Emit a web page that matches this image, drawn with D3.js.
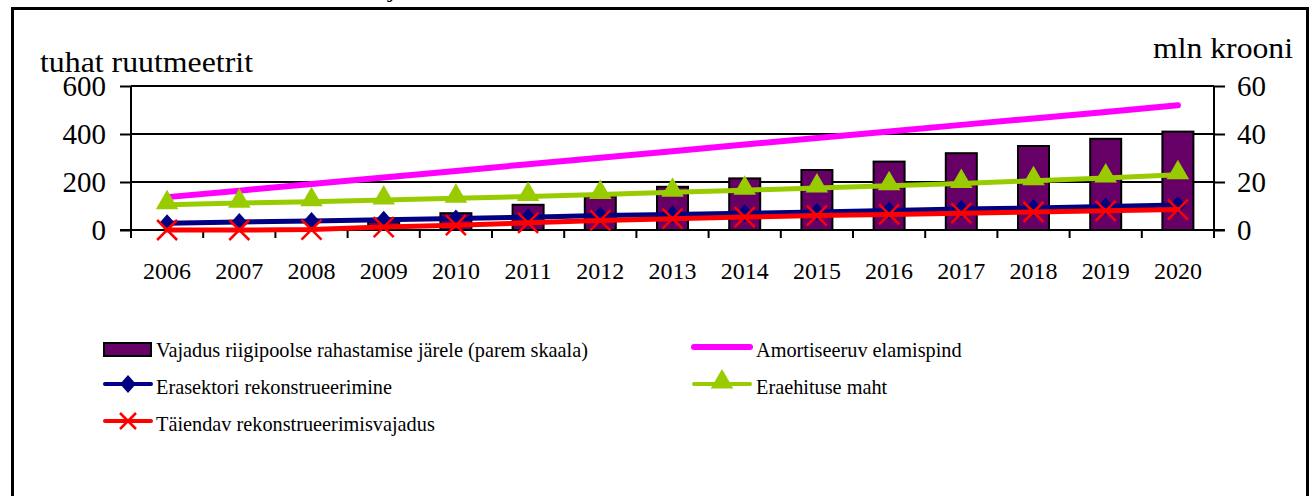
<!DOCTYPE html>
<html>
<head>
<meta charset="utf-8">
<script src="https://cdn.jsdelivr.net/npm/d3@7"></script>
<style>
  html, body { margin: 0; padding: 0; background: #fff; }
  svg { display: block; }
  text { font-family: "Liberation Serif", "Times New Roman", serif; fill: #000; }
</style>
</head>
<body>
<svg id="chart" width="1316" height="496"></svg>
<script>
// ---- data ----
const years = ["2006","2007","2008","2009","2010","2011","2012","2013","2014","2015","2016","2017","2018","2019","2020"];
const fundingNeed = [0, 0, 0, 3.5, 7, 10.5, 14, 18, 21.5, 25, 28.5, 32, 35, 38, 41];          // right scale, mln krooni
const amortizing = [137, 164, 192, 219, 246, 274, 301, 328, 356, 383, 410, 438, 465, 492, 520]; // left scale
const privateRecon = [28, 33, 38, 43, 48, 53, 60, 65, 70, 75, 81, 87, 92, 98, 104];
const privateBuild = [105, 112, 118, 125, 132, 140, 148, 157, 166, 175, 184, 194, 205, 217, 230];
const additionalRecon = [0, 0, 2, 12, 20, 30, 40, 47, 54, 60, 65, 70, 75, 80, 85];
const leftTicks = [0, 200, 400, 600];
const rightTicks = [0, 20, 40, 60];
const leftTitle = "tuhat ruutmeetrit";
const rightTitle = "mln krooni";
const legendNames = [
  "Vajadus riigipoolse rahastamise järele (parem skaala)",
  "Amortiseeruv elamispind",
  "Erasektori rekonstrueerimine",
  "Eraehituse maht",
  "Täiendav rekonstrueerimisvajadus"
];

const svg = d3.select("#chart");

// outer frame
svg.append("rect").attr("x", 12.5).attr("y", 8.5).attr("width", 1295).attr("height", 520)
  .attr("fill", "none").attr("stroke", "#000").attr("stroke-width", 3);
// cut-off text fragment at the top
svg.append("text").attr("x", 388).attr("y", -3).attr("font-size", 26).text("j");

const x = d3.scaleBand().domain(years).range([131, 1214]);
const yL = d3.scaleLinear().domain([0, 600]).range([230, 86]);
const yR = d3.scaleLinear().domain([0, 60]).range([230, 86]);

// gridlines
svg.append("g").selectAll("line").data(leftTicks.filter(d => d > 0)).join("line")
  .attr("x1", 131).attr("x2", 1214).attr("y1", d => yL(d)).attr("y2", d => yL(d))
  .attr("stroke", "#000").attr("stroke-width", 2);

// bars
const bw = 31;
svg.append("g").selectAll("rect").data(years.map((y, i) => ({y, v: fundingNeed[i]})).filter(d => d.v > 0)).join("rect")
  .attr("x", d => x(d.y) + x.bandwidth() / 2 - bw / 2)
  .attr("y", d => yR(d.v))
  .attr("width", bw)
  .attr("height", d => yR(0) - yR(d.v))
  .attr("fill", "#660066").attr("stroke", "#000").attr("stroke-width", 2);

// axes
const axL = svg.append("g").attr("transform", "translate(131,0)")
  .call(d3.axisLeft(yL).tickValues(leftTicks).tickSize(11).tickPadding(14));
const axR = svg.append("g").attr("transform", "translate(1214,0)")
  .call(d3.axisRight(yR).tickValues(rightTicks).tickSize(11).tickPadding(12));
[axL, axR].forEach(a => {
  a.select(".domain").remove();
  a.selectAll("line").attr("stroke", "#000").attr("stroke-width", 2);
  a.selectAll("text").attr("font-size", 29).attr("font-family", "Liberation Serif, serif").attr("fill", "#000");
});
// vertical axis lines
svg.append("line").attr("x1", 131).attr("x2", 131).attr("y1", 86).attr("y2", 238).attr("stroke", "#000").attr("stroke-width", 2);
svg.append("line").attr("x1", 1214).attr("x2", 1214).attr("y1", 86).attr("y2", 238).attr("stroke", "#000").attr("stroke-width", 2);
// x axis baseline
svg.append("line").attr("x1", 120).attr("x2", 1225).attr("y1", 230).attr("y2", 230).attr("stroke", "#000").attr("stroke-width", 2);

// x ticks between categories
const bounds = years.map(d => x(d)).concat([x.range()[1]]);
svg.append("g").selectAll("line").data(bounds).join("line")
  .attr("x1", d => d).attr("x2", d => d).attr("y1", 230).attr("y2", 238)
  .attr("stroke", "#000").attr("stroke-width", 2);
const axB = svg.append("g").attr("transform", "translate(0,230)")
  .call(d3.axisBottom(x).tickSize(0).tickPadding(49));
axB.select(".domain").remove();
axB.selectAll("text").attr("font-size", 24).attr("font-family", "Liberation Serif, serif").attr("fill", "#000").attr("dy", "0");

// axis titles
svg.append("text").attr("x", 40).attr("y", 72).attr("font-size", 30)
  .attr("textLength", 213).attr("lengthAdjust", "spacingAndGlyphs").text(leftTitle);
svg.append("text").attr("x", 1153).attr("y", 58).attr("font-size", 30)
  .attr("textLength", 140).attr("lengthAdjust", "spacingAndGlyphs").text(rightTitle);

// lines
const cx = d => x(d) + x.bandwidth() / 2;
function drawLine(vals, color, width) {
  const line = d3.line().x((v, i) => cx(years[i])).y(v => yL(v));
  svg.append("path").datum(vals).attr("d", line).attr("fill", "none")
    .attr("stroke", color).attr("stroke-width", width).attr("stroke-linecap", "round").attr("stroke-linejoin", "round");
}
const diamond = "M0,-9L8,0L0,9L-8,0Z";
const triangle = d3.symbol().type(d3.symbolTriangle).size(220);
const cross = "M-10,-10L10,10M-10,10L10,-10";
const crossSmall = "M-8,-8L8,8M-8,8L8,-8";

drawLine(amortizing, "#ff00ff", 6);

drawLine(privateRecon, "#000080", 5);
svg.append("g").selectAll("path").data(privateRecon).join("path")
  .attr("transform", (v, i) => `translate(${cx(years[i])},${yL(v)})`)
  .attr("d", diamond).attr("fill", "#000080");

drawLine(privateBuild, "#99cc00", 5);
svg.append("g").selectAll("path").data(privateBuild).join("path")
  .attr("transform", (v, i) => `translate(${cx(years[i])},${yL(v) - 2})`)
  .attr("d", triangle()).attr("fill", "#99cc00");

drawLine(additionalRecon, "#ff0000", 5);
svg.append("g").selectAll("path").data(additionalRecon).join("path")
  .attr("transform", (v, i) => `translate(${cx(years[i])},${yL(v)})`)
  .attr("d", cross).attr("fill", "none").attr("stroke", "#ff0000").attr("stroke-width", 2.5);

// legend
const lg = svg.append("g");
const fs = 20.3;
// row 1 col 1: bar swatch
lg.append("rect").attr("x", 104).attr("y", 343).attr("width", 47).attr("height", 13)
  .attr("fill", "#660066").attr("stroke", "#000").attr("stroke-width", 2);
lg.append("text").attr("x", 156).attr("y", 357).attr("font-size", fs).text(legendNames[0]);
// row 1 col 2
lg.append("line").attr("x1", 694).attr("x2", 750).attr("y1", 347).attr("y2", 347)
  .attr("stroke", "#ff00ff").attr("stroke-width", 6).attr("stroke-linecap", "round");
lg.append("text").attr("x", 756).attr("y", 357).attr("font-size", fs).text(legendNames[1]);
// row 2 col 1
lg.append("line").attr("x1", 105).attr("x2", 151).attr("y1", 384).attr("y2", 384)
  .attr("stroke", "#000080").attr("stroke-width", 4).attr("stroke-linecap", "round");
lg.append("path").attr("transform", "translate(128,384)").attr("d", diamond).attr("fill", "#000080");
lg.append("text").attr("x", 156).attr("y", 394).attr("font-size", fs).text(legendNames[2]);
// row 2 col 2
lg.append("line").attr("x1", 694).attr("x2", 750).attr("y1", 384).attr("y2", 384)
  .attr("stroke", "#99cc00").attr("stroke-width", 4).attr("stroke-linecap", "round");
lg.append("path").attr("transform", "translate(722,382)").attr("d", triangle()).attr("fill", "#99cc00");
lg.append("text").attr("x", 756).attr("y", 394).attr("font-size", fs).text(legendNames[3]);
// row 3 col 1
lg.append("line").attr("x1", 105).attr("x2", 151).attr("y1", 421).attr("y2", 421)
  .attr("stroke", "#ff0000").attr("stroke-width", 4).attr("stroke-linecap", "round");
lg.append("path").attr("transform", "translate(128,421)").attr("d", crossSmall).attr("fill", "none")
  .attr("stroke", "#ff0000").attr("stroke-width", 2.5);
lg.append("text").attr("x", 156).attr("y", 431).attr("font-size", fs).text(legendNames[4]);
</script>
</body>
</html>
